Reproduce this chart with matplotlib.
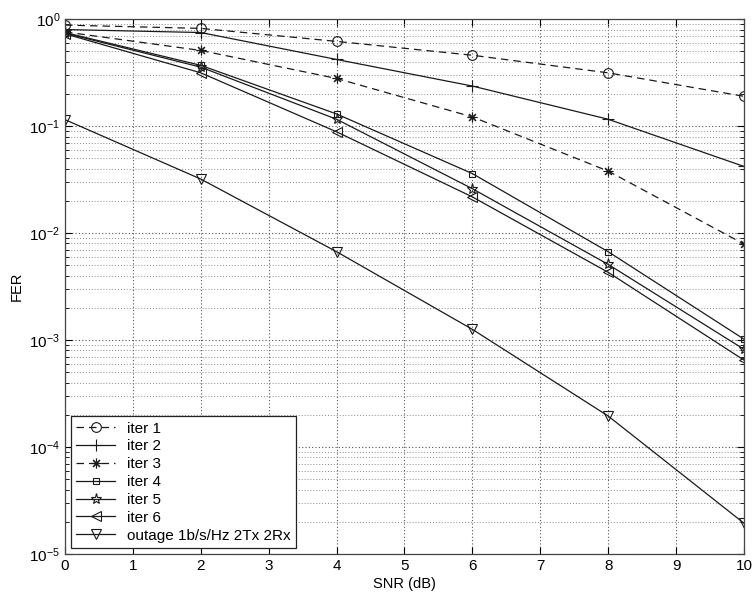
import numpy as np
import matplotlib
matplotlib.use('Agg')
from matplotlib import pyplot as plt
from matplotlib.ticker import LogLocator, NullFormatter

snr = [0, 2, 4, 6, 8, 10]

iter1 = [0.88, 0.82, 0.62, 0.46, 0.315, 0.19]
iter2 = [0.80, 0.75, 0.42, 0.237, 0.116, 0.042]
iter3 = [0.76, 0.51, 0.279, 0.122, 0.038, 0.0079]
iter4 = [0.75, 0.37, 0.13, 0.036, 0.0067, 0.00102]
iter5 = [0.74, 0.356, 0.116, 0.026, 0.0051, 0.00082]
iter6 = [0.73, 0.315, 0.0885, 0.0218, 0.0043, 0.00065]
outage = [0.115, 0.032, 0.0067, 0.00126, 0.000195, 0.0000194]

labels = ['iter 1', 'iter 2', 'iter 3', 'iter 4', 'iter 5', 'iter 6',
          'outage 1b/s/Hz 2Tx 2Rx']

plt.rcParams['font.family'] = ['Liberation Sans', 'DejaVu Sans']

fig = plt.figure(figsize=(7.53, 5.99), dpi=100)
ax = fig.add_axes([0.0863, 0.0751, 0.9017, 0.8929])

c = '#1a1a1a'
dash = (0, (6, 4))
# matlab-like markers: o, +, asterisk, square, pentagram, <, v
series = [
    (iter1, 'o', dash, 7),
    (iter2, '+', '-', 8),
    (iter3, (8, 2, 0), dash, 7),
    (iter4, 's', '-', 5),
    (iter5, '*', '-', 8),
    (iter6, '<', '-', 7),
    (outage, 'v', '-', 7),
]
for (y, m, ls, ms), lab in zip(series, labels):
    ax.semilogy(snr, y, color=c, linestyle=ls, linewidth=0.9, marker=m,
                markersize=ms, markerfacecolor='none',
                markeredgecolor=c, markeredgewidth=0.8, label=lab)

ax.set_xlim(0, 10)
ax.set_ylim(1e-5, 1)
ax.set_xticks(range(0, 11))
ax.yaxis.set_major_locator(LogLocator(base=10, numticks=10))
ax.yaxis.set_minor_locator(LogLocator(base=10, subs=np.arange(2, 10), numticks=20))
ax.yaxis.set_minor_formatter(NullFormatter())

ax.grid(True, which='major', linestyle=(0, (1, 2)), color='#555555', linewidth=0.8)
ax.grid(True, which='minor', axis='y', linestyle=(0, (1, 2)), color='#888888', linewidth=0.7)
ax.tick_params(which='both', direction='in', top=True, right=True, labelsize=11)
ax.tick_params(which='major', length=5)
ax.tick_params(which='minor', length=3)
for s in ax.spines.values():
    s.set_color('#444444')
    s.set_linewidth(0.9)

ax.set_xlabel('SNR (dB)', fontsize=10.5, labelpad=3)
ax.set_ylabel('FER', fontsize=10.5, labelpad=4)

leg = ax.legend(loc='lower left', fontsize=11, frameon=True, fancybox=False,
                edgecolor='#222222', framealpha=1, borderaxespad=0.4,
                handlelength=2.5, labelspacing=0.25, borderpad=0.35)
leg.get_frame().set_linewidth(0.9)

fig.savefig('out.png', dpi=100)
